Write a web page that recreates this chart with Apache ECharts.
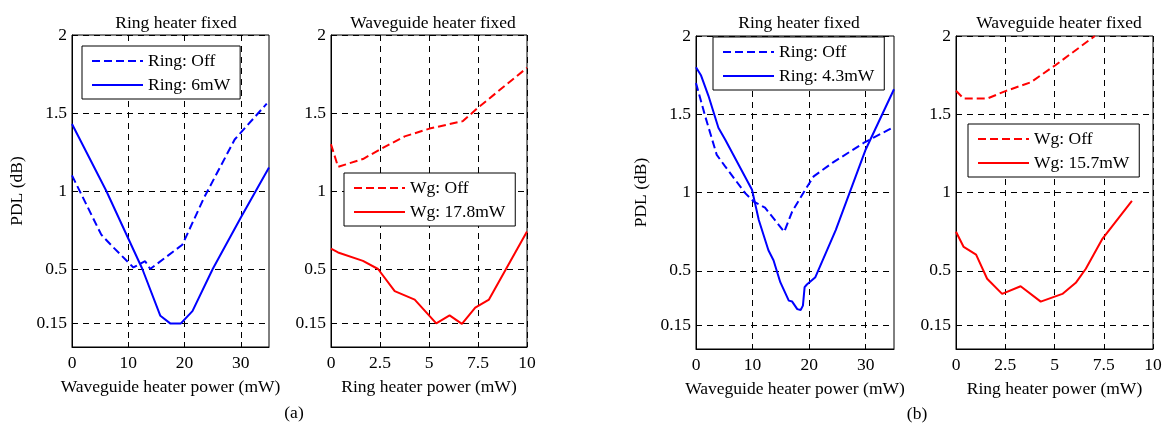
<!DOCTYPE html>
<html>
<head>
<meta charset="utf-8">
<script src="https://cdn.jsdelivr.net/npm/echarts@6/dist/echarts.min.js"></script>
<style>
html,body{margin:0;padding:0;background:#fff;}
#chart{width:1166px;height:424px;}
</style>
</head>
<body>
<div id="chart"></div>
<script>
// ---- Data ----
const yTicks = [0.15, 0.5, 1, 1.5, 2];
const xTicksWg = [0, 10, 20, 30];
const xTicksRing = [0, 2.5, 5, 7.5, 10];

// (a) Ring heater fixed
const aRingOffX = [0, 5.2, 7.3, 10.9, 13, 13.9, 19.6, 23.5, 28.9, 34.6];
const aRingOffY = [1.10, 0.72, 0.64, 0.51, 0.55, 0.50, 0.655, 0.96, 1.33, 1.56];
const aRing6X = [0, 6.1, 12.5, 15.7, 17.5, 19.3, 21.4, 25, 30, 35];
const aRing6Y = [1.43, 1.0, 0.5, 0.20, 0.15, 0.15, 0.23, 0.50, 0.83, 1.15];

// (a) Waveguide heater fixed
const aWgOffX = [0, 0.36, 1.63, 2.48, 3.76, 5.03, 6.73, 7.5, 10];
const aWgOffY = [1.30, 1.155, 1.205, 1.265, 1.35, 1.40, 1.448, 1.534, 1.79];
const aWg178X = [0, 0.36, 1.63, 2.4, 3.25, 4.27, 5.37, 6.05, 6.68, 7.36, 8.06, 10];
const aWg178Y = [0.63, 0.606, 0.552, 0.50, 0.358, 0.304, 0.151, 0.203, 0.148, 0.252, 0.304, 0.741];

// (b) Ring heater fixed
const bRingOffX = [0, 1.6, 3.67, 5.15, 8.7, 10.2, 12.2, 15.6, 17, 19.3, 20.8, 24.1, 29.7, 35];
const bRingOffY = [1.70, 1.49, 1.24, 1.167, 0.996, 0.942, 0.903, 0.749, 0.878, 1.017, 1.103, 1.189, 1.318, 1.42];
const bRing43X = [0, 0.9, 2.2, 3.96, 5.15, 9.9, 11.1, 12.8, 13.7, 14.9, 16.4, 17, 17.9, 18.5, 18.9, 19.2, 19.6, 21.1, 24.7, 30, 35];
const bRing43Y = [1.80, 1.747, 1.618, 1.414, 1.339, 1.017, 0.824, 0.631, 0.567, 0.427, 0.309, 0.303, 0.255, 0.249, 0.277, 0.395, 0.412, 0.459, 0.76, 1.275, 1.66];

// (b) Waveguide heater fixed
const bWgOffX = [0, 0.39, 1.58, 2.51, 3.79, 5.06, 7.05];
const bWgOffY = [1.65, 1.60, 1.60, 1.648, 1.704, 1.815, 2.0];
const bWg157X = [0, 0.39, 1.02, 1.58, 2.34, 3.28, 4.3, 5.4, 6.08, 6.59, 7.44, 8.93];
const bWg157Y = [0.749, 0.652, 0.603, 0.449, 0.352, 0.401, 0.303, 0.352, 0.423, 0.513, 0.706, 0.946];

const titles = ['Ring heater fixed', 'Waveguide heater fixed', 'Ring heater fixed', 'Waveguide heater fixed'];
const xNames = ['Waveguide heater power (mW)', 'Ring heater power (mW)', 'Waveguide heater power (mW)', 'Ring heater power (mW)'];
const panelLabels = ['(a)', '(b)'];

// ---- Layout ----
const FONT = 'Liberation Serif';
const FS = 17.5;
const grids = [
  {left: 72, top: 35, width: 197, height: 312},
  {left: 331, top: 35, width: 196, height: 312},
  {left: 696, top: 36, width: 198, height: 313},
  {left: 956, top: 36, width: 197, height: 313}
];
const BLUE = '#0000ff', RED = '#ff0000';
const zip = (xs, ys) => xs.map((x, i) => [x, ys[i]]);

const gridLine = {show: true, lineStyle: {color: '#000', width: 1, type: [6, 5]}};
const txt = {fontFamily: FONT, fontSize: FS, color: '#000'};

function xAxis(i, max, ticks) {
  return {
    type: 'value', gridIndex: i, min: 0, max: max,
    name: xNames[i], nameLocation: 'middle', nameGap: 31,
    nameTextStyle: Object.assign({}, txt),
    axisLine: {show: true, lineStyle: {color: '#000', width: 1}},
    axisTick: {show: true, inside: true, length: 5, customValues: ticks, lineStyle: {color: '#000'}},
    axisLabel: Object.assign({customValues: ticks, margin: 7}, txt),
    splitLine: gridLine
  };
}
function yAxis(i, named) {
  return {
    type: 'value', gridIndex: i, min: 0, max: 2,
    name: named ? 'PDL (dB)' : '', nameLocation: 'middle', nameGap: 46,
    nameTextStyle: Object.assign({}, txt),
    axisLine: {show: true, lineStyle: {color: '#000', width: 1}},
    axisTick: {show: true, inside: true, length: 5, customValues: yTicks, lineStyle: {color: '#000'}},
    axisLabel: Object.assign({customValues: yTicks, margin: 5}, txt),
    splitLine: gridLine
  };
}
function line(name, i, data, color, dashed) {
  return {
    name: name, type: 'line', xAxisIndex: i, yAxisIndex: i, data: data,
    symbol: 'none', showSymbol: false, clip: true, animation: false,
    lineStyle: {color: color, width: 2, type: dashed ? [8, 4] : 'solid'},
    itemStyle: {color: color}
  };
}
function legend(names, left, top) {
  return {
    data: names, orient: 'vertical', left: left, top: top,
    itemWidth: 51, itemHeight: 14, itemGap: 4,
    padding: [5, 10, 4, 9],
    borderColor: '#000', borderWidth: 1, backgroundColor: '#fff',
    itemStyle: {opacity: 0, color: 'rgba(0,0,0,0)', borderWidth: 0},
    lineStyle: {width: 2},
    textStyle: Object.assign({lineHeight: 20}, txt),
    selectedMode: false
  };
}

const option = {
  animation: false,
  backgroundColor: '#fff',
  title: [
    {text: titles[0], left: 171, top: 9, textAlign: 'center', textStyle: Object.assign({fontWeight: 'normal'}, txt)},
    {text: titles[1], left: 428, top: 9, textAlign: 'center', textStyle: Object.assign({fontWeight: 'normal'}, txt)},
    {text: titles[2], left: 794, top: 9, textAlign: 'center', textStyle: Object.assign({fontWeight: 'normal'}, txt)},
    {text: titles[3], left: 1054, top: 9, textAlign: 'center', textStyle: Object.assign({fontWeight: 'normal'}, txt)},
    {text: panelLabels[0], left: 289, top: 399, textAlign: 'center', textStyle: Object.assign({fontWeight: 'normal'}, txt)},
    {text: panelLabels[1], left: 912, top: 400, textAlign: 'center', textStyle: Object.assign({fontWeight: 'normal'}, txt)}
  ],
  grid: grids.map(g => Object.assign({show: true, borderColor: '#000', borderWidth: 1, backgroundColor: '#fff'}, g)),
  xAxis: [xAxis(0, 35, xTicksWg), xAxis(1, 10, xTicksRing), xAxis(2, 35, xTicksWg), xAxis(3, 10, xTicksRing)],
  yAxis: [yAxis(0, true), yAxis(1, false), yAxis(2, true), yAxis(3, false)],
  legend: [
    legend(['Ring: Off', 'Ring: 6mW'], 82, 46),
    legend(['Wg: Off', 'Wg: 17.8mW'], 344, 173),
    legend(['Ring: Off', 'Ring: 4.3mW'], 713, 37),
    legend(['Wg: Off', 'Wg: 15.7mW'], 968, 124)
  ],
  series: [
    line('Ring: Off', 0, zip(aRingOffX, aRingOffY), BLUE, true),
    line('Ring: 6mW', 0, zip(aRing6X, aRing6Y), BLUE, false),
    line('Wg: Off', 1, zip(aWgOffX, aWgOffY), RED, true),
    line('Wg: 17.8mW', 1, zip(aWg178X, aWg178Y), RED, false),
    line('Ring: Off', 2, zip(bRingOffX, bRingOffY), BLUE, true),
    line('Ring: 4.3mW', 2, zip(bRing43X, bRing43Y), BLUE, false),
    line('Wg: Off', 3, zip(bWgOffX, bWgOffY), RED, true),
    line('Wg: 15.7mW', 3, zip(bWg157X, bWg157Y), RED, false)
  ]
};

const chart = echarts.init(document.getElementById('chart'), null, {renderer: 'canvas'});
chart.setOption(option);
</script>
</body>
</html>
